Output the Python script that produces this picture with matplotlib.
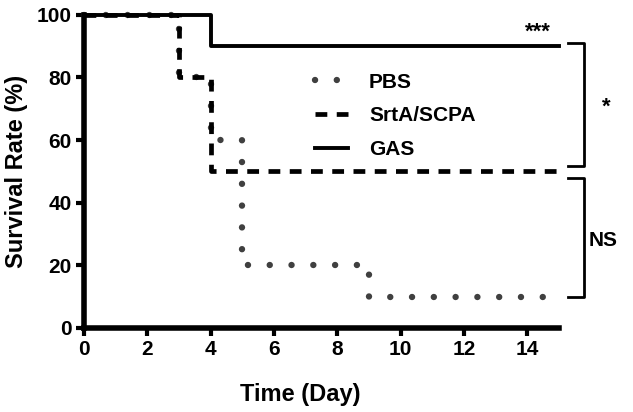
import matplotlib
matplotlib.use("Agg")
import matplotlib.pyplot as plt

plt.rcParams['font.family'] = ['Liberation Sans', 'DejaVu Sans']
plt.rcParams['font.weight'] = 'bold'

# survival data (day, percent)
pbs_days = [0, 3, 4, 5, 9, 15]
pbs_surv = [100, 80, 60, 20, 10, 10]
srta_days = [0, 3, 4, 15]
srta_surv = [100, 80, 50, 50]
gas_days = [0, 4, 15]
gas_surv = [100, 90, 90]

xticks = [0, 2, 4, 6, 8, 10, 12, 14]
yticks = [0, 20, 40, 60, 80, 100]

fig = plt.figure(figsize=(6.33, 4.12), dpi=100)
ax = fig.add_axes([0.133, 0.204, 0.75, 0.76])

ax.step(pbs_days, pbs_surv, where='post', color='#404040', lw=4.6,
        linestyle=(0, (0.01, 3.4)), dash_capstyle='round', label='PBS', clip_on=False)
ax.step(srta_days, srta_surv, where='post', color='black', lw=3.4,
        linestyle=(0, (2.5, 2.0)), label='SrtA/SCPA', clip_on=False)
ax.step(gas_days, gas_surv, where='post', color='black', lw=2.8,
        label='GAS', clip_on=False)

ax.set_xlim(0, 15)
ax.set_ylim(0, 100)
ax.set_xticks(xticks)
ax.set_yticks(yticks)
for s in ['top', 'right']:
    ax.spines[s].set_visible(False)
for s in ['left', 'bottom']:
    ax.spines[s].set_linewidth(4)
ax.tick_params(width=3, length=6, labelsize=15, pad=3)
for lab in ax.get_xticklabels() + ax.get_yticklabels():
    lab.set_fontweight('bold')

ax.set_xlabel('Time (Day)', fontsize=17, fontweight='bold')
ax.xaxis.set_label_coords(0.455, -0.175)
ax.set_ylabel('Survival Rate (%)', fontsize=17, fontweight='bold', labelpad=6)

leg = ax.legend(loc='upper left', bbox_to_anchor=(0.486, 0.815), frameon=False,
                fontsize=15, handlelength=1.6, handletextpad=1.0,
                labelspacing=0.7, borderpad=0, borderaxespad=0)
for t in leg.get_texts():
    t.set_fontweight('bold')

# significance brackets
ax.plot([15.3, 15.8, 15.8, 15.3], [91, 91, 51.8, 51.8], color='black', lw=2, clip_on=False)
ax.plot([15.3, 15.8, 15.8, 15.3], [47.9, 47.9, 10, 10], color='black', lw=2, clip_on=False)
ax.text(16.5, 70.6, '*', fontsize=16, fontweight='bold', ha='center', va='center')
ax.text(16.4, 28, 'NS', fontsize=15, fontweight='bold', ha='center', va='center')
ax.text(14.35, 94.5, '***', fontsize=16, fontweight='bold', ha='center', va='center')

fig.savefig('out.png', dpi=100)
